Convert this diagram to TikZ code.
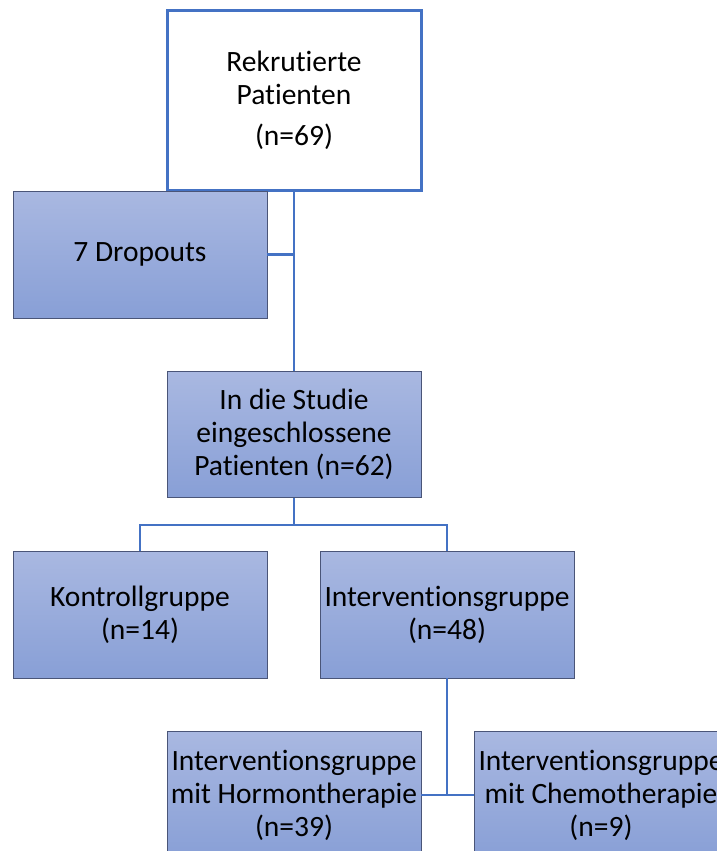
\documentclass[tikz,border=0pt]{standalone}
\usepackage{fontspec}
\setmainfont[Ligatures=NoCommon]{Carlito}
\usetikzlibrary{positioning,calc}
\definecolor{flowblue}{HTML}{4472C4}
\definecolor{flowtop}{HTML}{A9B8E1}
\definecolor{flowbot}{HTML}{889FD6}
\definecolor{flowedge}{HTML}{4A5578}

\begin{document}
\begin{tikzpicture}[
    x=1pt, y=-1pt,
    box/.style={rectangle, minimum width=254pt, minimum height=127pt,
                inner sep=0pt, align=center, top color=flowtop,
                bottom color=flowbot, draw=flowedge, line width=0.8pt,
                font=\fontsize{29.5}{33}\selectfont},
    startbox/.style={rectangle, minimum width=254pt, minimum height=179pt,
                inner sep=0pt, align=center, fill=white, draw=flowblue,
                line width=3pt, font=\fontsize{29.5}{33}\selectfont},
    conn/.style={draw=flowblue, line width=2.8pt}
  ]

  % ---- Frame ----
  \useasboundingbox (0,0) rectangle (717,851);

  % ---- Recruited ----
  \node[startbox] (rekr) at (294,100.5) {Rekrutierte\\Patienten\\[8pt](n=69)};

  % ---- Dropouts ----
  \node[box] (drop) at (140,254.5) {7 Dropouts};

  % ---- Included ----
  \node[box, minimum height=126pt] (studie) at (294,434.5)
    {In die Studie\\eingeschlossene\\Patienten (n=62)};

  % ---- Groups ----
  \node[box] (kontroll) at (140,614.5) {Kontrollgruppe\\(n=14)};
  \node[box] (interv) at (447,614.5) {Interventionsgruppe\\(n=48)};

  % ---- Subgroups ----
  \node[box, minimum height=128pt] (hormon) at (294,795)
    {Interventionsgruppe\\mit Hormontherapie\\(n=39)};
  \node[box, minimum height=128pt] (chemo) at (601,795)
    {Interventionsgruppe\\mit Chemotherapie\\(n=9)};

  % ---- Connectors ----
  \draw[conn] (rekr.south) -- (studie.north);
  \draw[conn] (drop.east) -- (drop.east -| rekr.south);
  \coordinate (split) at ($(studie.south)+(0,27)$);
  \draw[conn] (studie.south) -- (split) -| (kontroll.north);
  \draw[conn] (split) -| (interv.north);
  \draw[conn] (interv.south) |- (hormon.east);
  \draw[conn] (interv.south) |- (chemo.west);

\end{tikzpicture}
\end{document}
